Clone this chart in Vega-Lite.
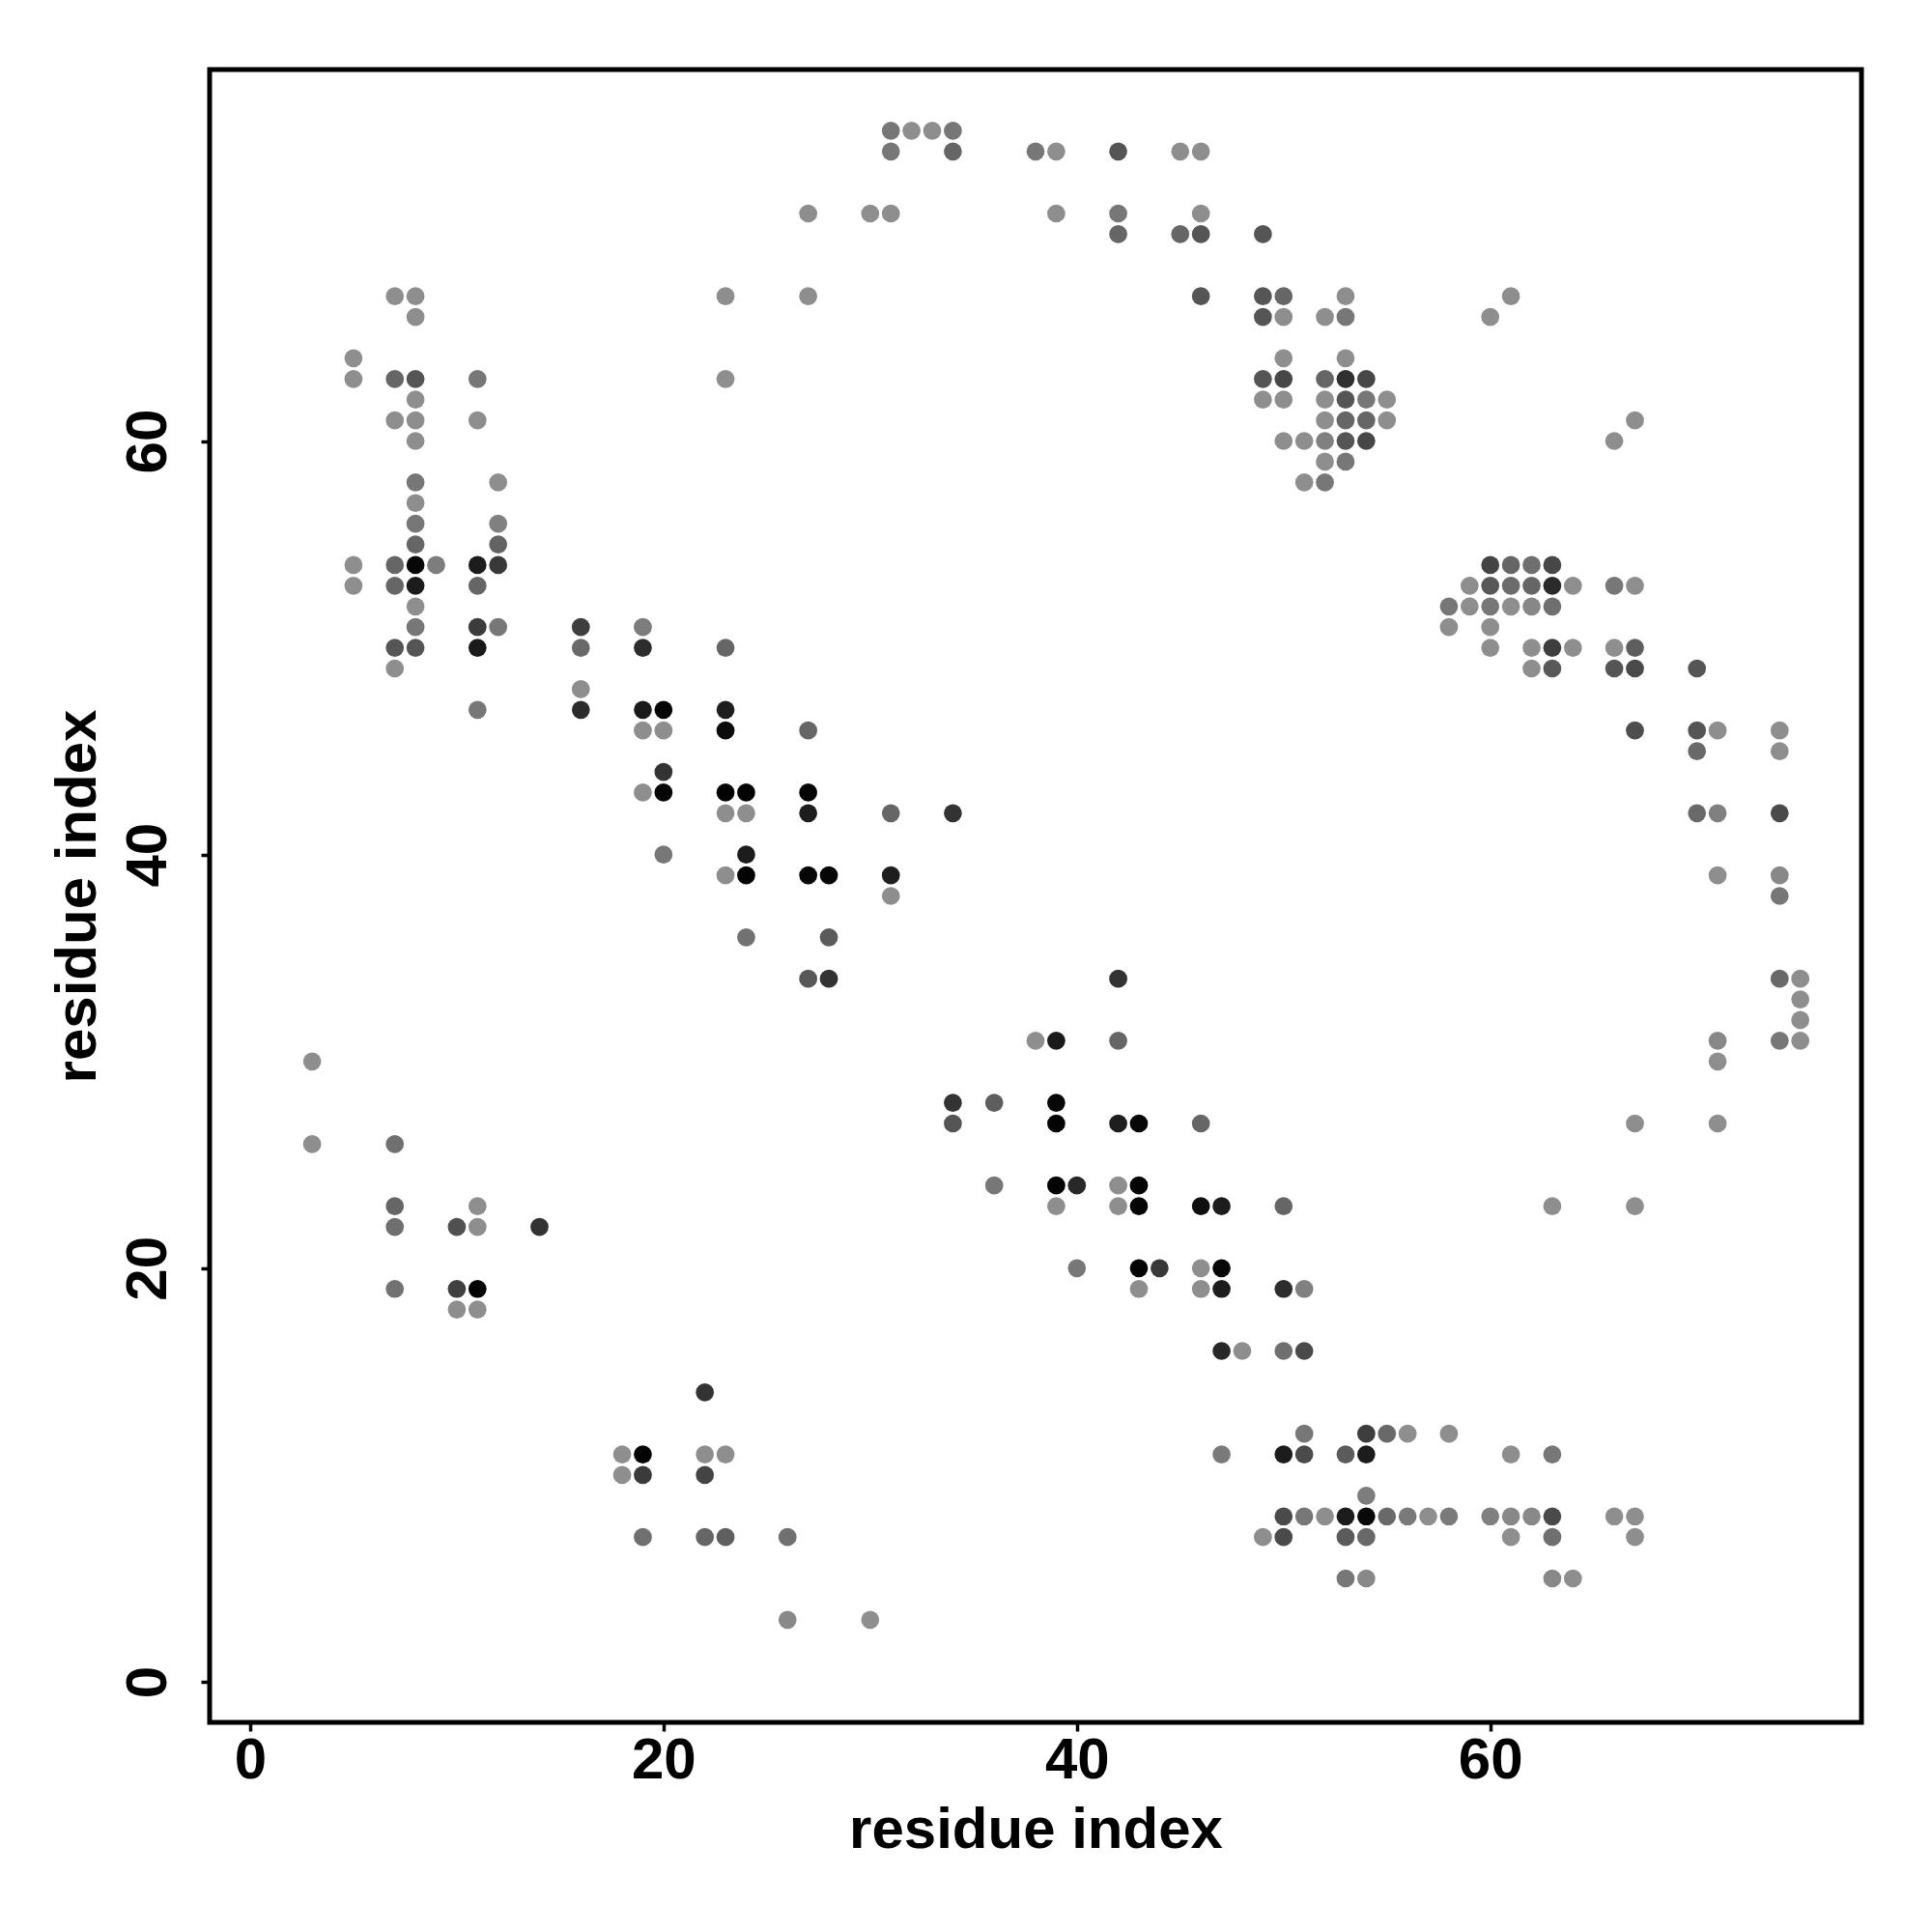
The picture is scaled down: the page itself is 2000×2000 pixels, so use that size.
{
  "$schema": "https://vega.github.io/schema/vega-lite/v6.json",
  "autosize": {"type": "none"},
  "padding": {"left": 217, "top": 72, "right": 73, "bottom": 217},
  "width": 1710,
  "height": 1711,
  "background": "white",
  "config": {
    "view": {"stroke": "black", "strokeWidth": 5},
    "axis": {
      "domain": false, "grid": false, "ticks": true, "tickColor": "black", "tickWidth": 3.5, "tickSize": 9,
      "labelFont": "Liberation Sans", "labelFontWeight": "bold", "labelFontSize": 60, "labelColor": "black",
      "titleFont": "Liberation Sans", "titleFontWeight": "bold", "titleFontSize": 60, "titleColor": "black"
    }
  },
  "data": {"values": [
    {"x":31,"y":75,"s":0.16},{"x":32,"y":75,"s":0},{"x":33,"y":75,"s":0},{"x":34,"y":75,"s":0.16},
    {"x":31,"y":74,"s":0.16},{"x":34,"y":74,"s":0.28},{"x":38,"y":74,"s":0.16},{"x":39,"y":74,"s":0},{"x":42,"y":74,"s":0.4},{"x":45,"y":74,"s":0},{"x":46,"y":74,"s":0},
    {"x":27,"y":71,"s":0},{"x":30,"y":71,"s":0},{"x":31,"y":71,"s":0},{"x":39,"y":71,"s":0},{"x":42,"y":71,"s":0.16},{"x":46,"y":71,"s":0},
    {"x":42,"y":70,"s":0.28},{"x":45,"y":70,"s":0.28},{"x":46,"y":70,"s":0.4},{"x":49,"y":70,"s":0.4},
    {"x":7,"y":67,"s":0},{"x":8,"y":67,"s":0},{"x":23,"y":67,"s":0},{"x":27,"y":67,"s":0},{"x":46,"y":67,"s":0.4},{"x":49,"y":67,"s":0.4},{"x":50,"y":67,"s":0.28},{"x":53,"y":67,"s":0},{"x":61,"y":67,"s":0},
    {"x":8,"y":66,"s":0},{"x":49,"y":66,"s":0.4},{"x":50,"y":66,"s":0},{"x":52,"y":66,"s":0},{"x":53,"y":66,"s":0.16},{"x":60,"y":66,"s":0},
    {"x":5,"y":64,"s":0},{"x":50,"y":64,"s":0},{"x":53,"y":64,"s":0},
    {"x":5,"y":63,"s":0},{"x":7,"y":63,"s":0.28},{"x":8,"y":63,"s":0.4},{"x":11,"y":63,"s":0.16},{"x":23,"y":63,"s":0},{"x":49,"y":63,"s":0.4},{"x":50,"y":63,"s":0.5},{"x":52,"y":63,"s":0.28},{"x":53,"y":63,"s":0.66},{"x":54,"y":63,"s":0.5},
    {"x":8,"y":62,"s":0},{"x":49,"y":62,"s":0},{"x":50,"y":62,"s":0},{"x":52,"y":62,"s":0},{"x":53,"y":62,"s":0.4},{"x":54,"y":62,"s":0.16},{"x":55,"y":62,"s":0},
    {"x":7,"y":61,"s":0},{"x":8,"y":61,"s":0},{"x":11,"y":61,"s":0},{"x":52,"y":61,"s":0},{"x":53,"y":61,"s":0.28},{"x":54,"y":61,"s":0.28},{"x":55,"y":61,"s":0},{"x":67,"y":61,"s":0},
    {"x":8,"y":60,"s":0},{"x":50,"y":60,"s":0},{"x":51,"y":60,"s":0},{"x":52,"y":60,"s":0.1},{"x":53,"y":60,"s":0.4},{"x":54,"y":60,"s":0.5},{"x":66,"y":60,"s":0},
    {"x":52,"y":59,"s":0},{"x":53,"y":59,"s":0.16},
    {"x":8,"y":58,"s":0.16},{"x":12,"y":58,"s":0},{"x":51,"y":58,"s":0},{"x":52,"y":58,"s":0.16},
    {"x":8,"y":57,"s":0},
    {"x":8,"y":56,"s":0.16},{"x":12,"y":56,"s":0.1},
    {"x":8,"y":55,"s":0.28},{"x":12,"y":55,"s":0.3},
    {"x":5,"y":54,"s":0},{"x":7,"y":54,"s":0.28},{"x":8,"y":54,"s":0.95},{"x":9,"y":54,"s":0.12},{"x":11,"y":54,"s":0.8},{"x":12,"y":54,"s":0.6},{"x":60,"y":54,"s":0.52},{"x":61,"y":54,"s":0.28},{"x":62,"y":54,"s":0.22},{"x":63,"y":54,"s":0.5},
    {"x":5,"y":53,"s":0},{"x":7,"y":53,"s":0.28},{"x":8,"y":53,"s":0.8},{"x":11,"y":53,"s":0.28},{"x":59,"y":53,"s":0},{"x":60,"y":53,"s":0.38},{"x":61,"y":53,"s":0.24},{"x":62,"y":53,"s":0.28},{"x":63,"y":53,"s":0.7},{"x":64,"y":53,"s":0},{"x":66,"y":53,"s":0.16},{"x":67,"y":53,"s":0},
    {"x":8,"y":52,"s":0},{"x":58,"y":52,"s":0.16},{"x":59,"y":52,"s":0},{"x":60,"y":52,"s":0.16},{"x":61,"y":52,"s":0},{"x":62,"y":52,"s":0.05},{"x":63,"y":52,"s":0.22},
    {"x":8,"y":51,"s":0.16},{"x":11,"y":51,"s":0.58},{"x":12,"y":51,"s":0.16},{"x":16,"y":51,"s":0.56},{"x":19,"y":51,"s":0.12},{"x":58,"y":51,"s":0},{"x":60,"y":51,"s":0},
    {"x":7,"y":50,"s":0.4},{"x":8,"y":50,"s":0.4},{"x":11,"y":50,"s":0.82},{"x":16,"y":50,"s":0.26},{"x":19,"y":50,"s":0.68},{"x":23,"y":50,"s":0.28},{"x":60,"y":50,"s":0},{"x":62,"y":50,"s":0},{"x":63,"y":50,"s":0.56},{"x":64,"y":50,"s":0},{"x":66,"y":50,"s":0},{"x":67,"y":50,"s":0.34},
    {"x":7,"y":49,"s":0},{"x":62,"y":49,"s":0},{"x":63,"y":49,"s":0.37},{"x":66,"y":49,"s":0.4},{"x":67,"y":49,"s":0.48},{"x":70,"y":49,"s":0.4},
    {"x":16,"y":48,"s":0},
    {"x":11,"y":47,"s":0.16},{"x":16,"y":47,"s":0.7},{"x":19,"y":47,"s":0.82},{"x":20,"y":47,"s":0.96},{"x":23,"y":47,"s":0.79},
    {"x":19,"y":46,"s":0},{"x":20,"y":46,"s":0},{"x":23,"y":46,"s":0.92},{"x":27,"y":46,"s":0.28},{"x":67,"y":46,"s":0.45},{"x":70,"y":46,"s":0.4},{"x":71,"y":46,"s":0},{"x":74,"y":46,"s":0},
    {"x":70,"y":45,"s":0.26},{"x":74,"y":45,"s":0},
    {"x":20,"y":44,"s":0.64},
    {"x":19,"y":43,"s":0},{"x":20,"y":43,"s":0.96},{"x":23,"y":43,"s":0.98},{"x":24,"y":43,"s":0.98},{"x":27,"y":43,"s":0.96},
    {"x":23,"y":42,"s":0},{"x":24,"y":42,"s":0},{"x":27,"y":42,"s":0.79},{"x":31,"y":42,"s":0.28},{"x":34,"y":42,"s":0.64},{"x":70,"y":42,"s":0.26},{"x":71,"y":42,"s":0.1},{"x":74,"y":42,"s":0.48},
    {"x":20,"y":40,"s":0.16},{"x":24,"y":40,"s":0.8},
    {"x":23,"y":39,"s":0},{"x":24,"y":39,"s":0.97},{"x":27,"y":39,"s":0.96},{"x":28,"y":39,"s":0.96},{"x":31,"y":39,"s":0.79},{"x":71,"y":39,"s":0},{"x":74,"y":39,"s":0.04},
    {"x":31,"y":38,"s":0},{"x":74,"y":38,"s":0.16},
    {"x":24,"y":36,"s":0.2},{"x":28,"y":36,"s":0.36},
    {"x":27,"y":34,"s":0.38},{"x":28,"y":34,"s":0.64},{"x":42,"y":34,"s":0.64},{"x":74,"y":34,"s":0.26},{"x":75,"y":34,"s":0},
    {"x":75,"y":33,"s":0},
    {"x":75,"y":32,"s":0},
    {"x":38,"y":31,"s":0},{"x":39,"y":31,"s":0.82},{"x":42,"y":31,"s":0.28},{"x":71,"y":31,"s":0.04},{"x":74,"y":31,"s":0.16},{"x":75,"y":31,"s":0},
    {"x":3,"y":30,"s":0},{"x":71,"y":30,"s":0},
    {"x":34,"y":28,"s":0.64},{"x":36,"y":28,"s":0.34},{"x":39,"y":28,"s":0.95},
    {"x":34,"y":27,"s":0.4},{"x":39,"y":27,"s":0.97},{"x":42,"y":27,"s":0.79},{"x":43,"y":27,"s":0.95},{"x":46,"y":27,"s":0.28},{"x":67,"y":27,"s":0},{"x":71,"y":27,"s":0},
    {"x":3,"y":26,"s":0},{"x":7,"y":26,"s":0.21},
    {"x":36,"y":24,"s":0.16},{"x":39,"y":24,"s":0.97},{"x":40,"y":24,"s":0.72},{"x":42,"y":24,"s":0},{"x":43,"y":24,"s":0.97},
    {"x":7,"y":23,"s":0.28},{"x":11,"y":23,"s":0},{"x":39,"y":23,"s":0},{"x":42,"y":23,"s":0},{"x":43,"y":23,"s":0.97},{"x":46,"y":23,"s":0.9},{"x":47,"y":23,"s":0.8},{"x":50,"y":23,"s":0.28},{"x":63,"y":23,"s":0},{"x":67,"y":23,"s":0},
    {"x":7,"y":22,"s":0.22},{"x":10,"y":22,"s":0.44},{"x":11,"y":22,"s":0},{"x":14,"y":22,"s":0.64},
    {"x":40,"y":20,"s":0.16},{"x":43,"y":20,"s":0.97},{"x":44,"y":20,"s":0.6},{"x":46,"y":20,"s":0},{"x":47,"y":20,"s":0.95},
    {"x":7,"y":19,"s":0.2},{"x":10,"y":19,"s":0.55},{"x":11,"y":19,"s":0.98},{"x":43,"y":19,"s":0},{"x":46,"y":19,"s":0},{"x":47,"y":19,"s":0.8},{"x":50,"y":19,"s":0.68},{"x":51,"y":19,"s":0.1},
    {"x":10,"y":18,"s":0},{"x":11,"y":18,"s":0},
    {"x":47,"y":16,"s":0.72},{"x":48,"y":16,"s":0},{"x":50,"y":16,"s":0.22},{"x":51,"y":16,"s":0.48},
    {"x":22,"y":14,"s":0.64},
    {"x":51,"y":12,"s":0.16},{"x":54,"y":12,"s":0.56},{"x":55,"y":12,"s":0.26},{"x":56,"y":12,"s":0},{"x":58,"y":12,"s":0},
    {"x":18,"y":11,"s":0},{"x":19,"y":11,"s":0.98},{"x":22,"y":11,"s":0},{"x":23,"y":11,"s":0},{"x":47,"y":11,"s":0.14},{"x":50,"y":11,"s":0.8},{"x":51,"y":11,"s":0.48},{"x":53,"y":11,"s":0.36},{"x":54,"y":11,"s":0.8},{"x":61,"y":11,"s":0},{"x":63,"y":11,"s":0.16},
    {"x":18,"y":10,"s":0},{"x":19,"y":10,"s":0.59},{"x":22,"y":10,"s":0.52},
    {"x":54,"y":9,"s":0.12},
    {"x":50,"y":8,"s":0.48},{"x":51,"y":8,"s":0.16},{"x":52,"y":8,"s":0},{"x":53,"y":8,"s":0.8},{"x":54,"y":8,"s":0.94},{"x":55,"y":8,"s":0.26},{"x":56,"y":8,"s":0.14},{"x":57,"y":8,"s":0},{"x":58,"y":8,"s":0.14},{"x":60,"y":8,"s":0.1},{"x":61,"y":8,"s":0.04},{"x":62,"y":8,"s":0.04},{"x":63,"y":8,"s":0.48},{"x":66,"y":8,"s":0},{"x":67,"y":8,"s":0},
    {"x":19,"y":7,"s":0.21},{"x":22,"y":7,"s":0.28},{"x":23,"y":7,"s":0.33},{"x":26,"y":7,"s":0.21},{"x":49,"y":7,"s":0},{"x":50,"y":7,"s":0.48},{"x":53,"y":7,"s":0.36},{"x":54,"y":7,"s":0.26},{"x":61,"y":7,"s":0},{"x":63,"y":7,"s":0.22},{"x":67,"y":7,"s":0},
    {"x":53,"y":5,"s":0.16},{"x":54,"y":5,"s":0.04},{"x":63,"y":5,"s":0.04},{"x":64,"y":5,"s":0},
    {"x":26,"y":3,"s":0.04},{"x":30,"y":3,"s":0}
  ]},
  "mark": {"type": "circle", "size": 350, "opacity": 1},
  "encoding": {
    "x": {
      "field": "x", "type": "quantitative",
      "scale": {"domain": [-1.96, 77.96], "nice": false, "zero": false},
      "axis": {
        "values": [0, 20, 40, 60], "title": "residue index",
        "labelBaseline": "top", "labelAlign": "center", "labelPadding": 1,
        "titleX": 855, "titleY": 129, "titleBaseline": "alphabetic", "titleAlign": "center"
      }
    },
    "y": {
      "field": "y", "type": "quantitative",
      "scale": {"domain": [-1.96, 77.96], "nice": false, "zero": false},
      "axis": {
        "values": [0, 20, 40, 60], "title": "residue index",
        "labelAngle": 270, "labelAlign": "center", "labelBaseline": "alphabetic", "labelPadding": 37,
        "titleAngle": 270, "titleX": -119, "titleY": 855.5, "titleBaseline": "alphabetic", "titleAlign": "center"
      }
    },
    "color": {
      "field": "s", "type": "quantitative",
      "scale": {"domain": [0, 1], "range": ["#8e8e8e", "#000000"], "interpolate": "rgb"},
      "legend": null
    }
  }
}
